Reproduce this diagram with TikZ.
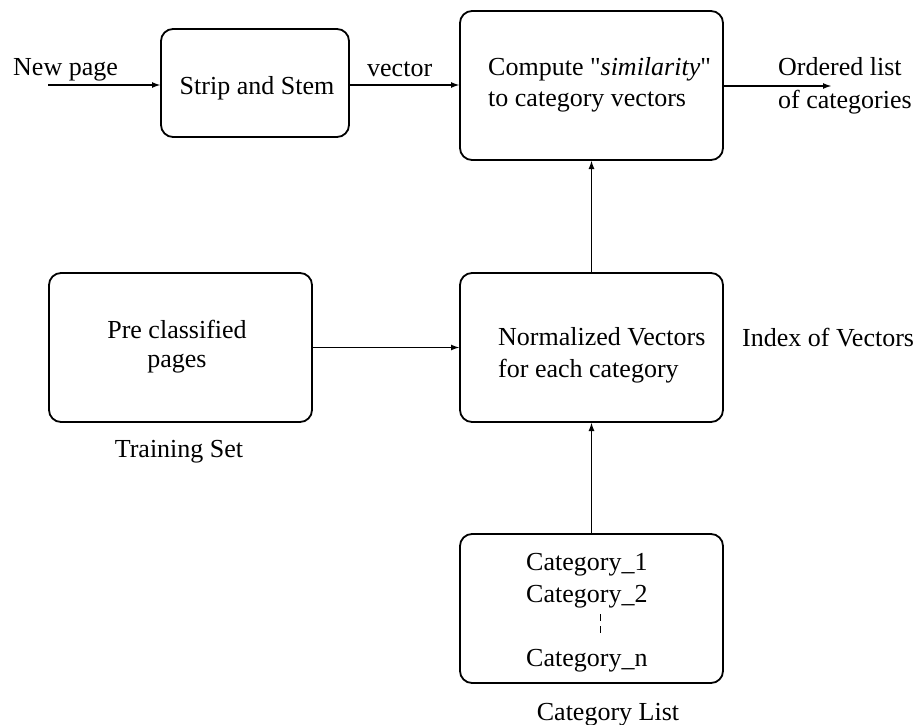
\documentclass[tikz,border=0pt]{standalone}
\usepackage{fontspec}
\setmainfont{Liberation Serif}
\usetikzlibrary{arrows.meta}
\begin{document}
\begin{tikzpicture}[x=1pt,y=-1pt,
  box/.style={draw,line width=1.8pt,rounded corners=12pt,inner sep=0pt,outer sep=0pt},
  lbl/.style={inner sep=0pt,font=\fontsize{26}{31}\selectfont},
  conn/.style={line width=1.8pt,-{Latex[length=9pt,width=6pt]}}]
\useasboundingbox (0,0) rectangle (918,725);
% boxes
\node[box,minimum width=188pt,minimum height=108pt] (strip) at (255,83) {};
\node[box,minimum width=263pt,minimum height=149pt] (compute) at (591.5,85.5) {};
\node[box,minimum width=263pt,minimum height=149pt] (pre) at (180.5,347.5) {};
\node[box,minimum width=263pt,minimum height=149pt] (norm) at (591.5,347.5) {};
\node[box,minimum width=263pt,minimum height=149pt] (cat) at (591.5,608.5) {};
% texts in boxes
\node[lbl,anchor=base] (tstrip) at (257,95) {Strip and Stem};
\node[lbl,anchor=base west] (tc1) at (488,75) {Compute \textquotedbl\textit{similarity}\textquotedbl};
\node[lbl,anchor=base west] (tc2) at (488,106) {to category vectors};
\node[lbl,anchor=base] (tp1) at (177,338) {Pre classified};
\node[lbl,anchor=base] (tp2) at (177,367) {pages};
\node[lbl,anchor=base west] (tn1) at (498,345) {Normalized Vectors};
\node[lbl,anchor=base west] (tn2) at (498,377) {for each category};
\node[lbl,anchor=base west] (tk1) at (526,570) {Category\_1};
\node[lbl,anchor=base west] (tk2) at (526,602) {Category\_2};
\node[lbl,anchor=base west] (tkn) at (526,666) {Category\_n};
\draw[line width=1.4pt,dash pattern=on 7pt off 5pt] (600.5,614) coordinate (d1) -- (600.5,636) coordinate (d2);
% outside labels
\node[lbl,anchor=base west] (tnew) at (13,75) {New page};
\node[lbl,anchor=base west] (tvec) at (367,77) {vector};
\node[lbl,anchor=base west] (to1) at (778,75) {Ordered list};
\node[lbl,anchor=base west] (to2) at (778,108) {of categories};
\node[lbl,anchor=base west] (tidx) at (742,346) {Index of Vectors};
\node[lbl,anchor=base] (ttrain) at (179,457) {Training Set};
\node[lbl,anchor=base] (tcl) at (608,720) {Category List};
% connectors
\coordinate (newin) at (48,85);
\coordinate (outend) at (832,86);
\draw[conn] (newin) -- (newin -| strip.west);
\draw[conn] ([yshift=-2pt]strip.east) -- ([yshift=-2pt]strip.east -| compute.west);
\draw[conn] ([yshift=-0.5pt]compute.east) -- (outend);
\draw[conn] (pre.east) -- (norm.west);
\draw[conn] (norm.north) -- (compute.south);
\draw[conn] (cat.north) -- (norm.south);
\end{tikzpicture}
\end{document}
